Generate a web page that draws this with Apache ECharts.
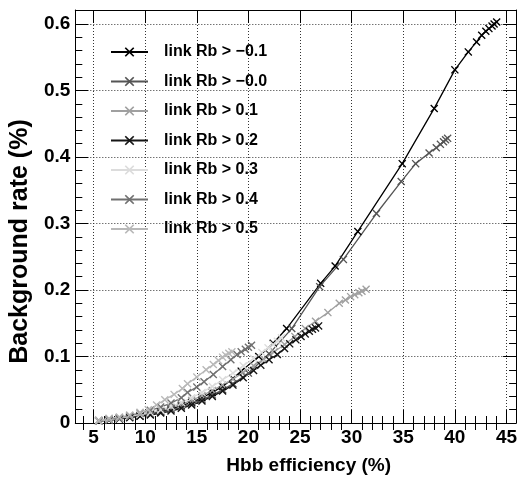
<!DOCTYPE html>
<html>
<head>
<meta charset="utf-8">
<script src="https://cdn.jsdelivr.net/npm/echarts@6/dist/echarts.min.js"></script>
<style>
  html, body { margin: 0; padding: 0; background: #fff; }
  #chart { width: 520px; height: 480px; }
</style>
</head>
<body>
<div id="chart"></div>
<script>
// --- Data ---
const seriesNames = ['link Rb > \u22120.1', 'link Rb > \u22120.0', 'link Rb > 0.1', 'link Rb > 0.2',
                     'link Rb > 0.3', 'link Rb > 0.4', 'link Rb > 0.5'];
const seriesColors = ['#000000', '#555555', '#a0a0a0', '#151515', '#dcdcdc', '#707070', '#b8b8b8'];

// [efficiency %, background %]
const rbM01 = [[5.5,0.003],[6.5,0.005],[7.5,0.007],[8.5,0.009],[9.5,0.011],[10.5,0.014],[11.5,0.017],
  [12.5,0.021],[13.5,0.026],[14.5,0.031],[15.5,0.038],[16.5,0.046],[17.5,0.055],[18.5,0.067],
  [19.3,0.078],[21,0.1],[22.4,0.12],[23.7,0.142],[27,0.21],[28.4,0.236],[30.6,0.288],[34.9,0.39],
  [38,0.473],[40,0.531],[41.3,0.558],[42.1,0.573],[42.6,0.583],[43,0.589],[43.3,0.593],[43.6,0.597],
  [43.8,0.6],[44.05,0.603]];
const rbM00 = [[5.5,0.003],[6.5,0.005],[7.5,0.007],[8.5,0.009],[9.5,0.011],[10.5,0.013],[11.5,0.016],
  [12.5,0.02],[13.5,0.024],[14.5,0.029],[15.5,0.035],[16.5,0.042],[17.5,0.05],[18.5,0.059],
  [20,0.075],[22,0.104],[24.2,0.142],[26.9,0.205],[29.2,0.246],[32.4,0.315],[34.8,0.363],[36.2,0.39],
  [37.5,0.406],[38.2,0.414],[38.6,0.419],[38.9,0.423],[39.1,0.426],[39.3,0.428]];
const rb01 = [[5.5,0.003],[6.5,0.005],[7.5,0.007],[8.5,0.01],[9.5,0.012],[10.5,0.015],[11.5,0.019],
  [12.5,0.023],[13.5,0.028],[14.5,0.034],[15.5,0.041],[16.5,0.049],[17.5,0.057],[18.5,0.066],
  [19.5,0.076],[20.5,0.086],[21.5,0.096],[22.5,0.107],[23.5,0.118],[24.5,0.13],[25.5,0.142],
  [26.5,0.153],[27.7,0.166],[28.8,0.18],[29.4,0.185],[29.9,0.19],[30.3,0.193],[30.7,0.196],
  [31.0,0.198],[31.4,0.201]];
const rb02 = [[5.5,0.003],[6.5,0.004],[7.5,0.006],[8.5,0.008],[9.5,0.01],[10.5,0.012],[11.5,0.015],
  [12.5,0.018],[13.5,0.022],[14.5,0.027],[15.5,0.033],[16.5,0.04],[17.5,0.048],[18.5,0.057],
  [19.5,0.068],[20.5,0.079],[21.2,0.087],[22,0.095],[22.8,0.103],[23.5,0.112],[24,0.119],[24.6,0.125],
  [25.1,0.13],[25.5,0.134],[25.9,0.138],[26.2,0.141],[26.5,0.143],[26.8,0.146]];
const rb03 = [[5.5,0.003],[6.5,0.005],[7.5,0.007],[8.5,0.01],[9.5,0.013],[10.5,0.016],[11.5,0.02],
  [12.5,0.025],[13.5,0.031],[14.5,0.038],[15.5,0.046],[16.5,0.055],[17.5,0.065],[18.5,0.075],
  [19.5,0.086],[20.5,0.097],[21.3,0.106],[21.9,0.113],[22.4,0.118],[22.8,0.123],[23.2,0.128]];
const rb04 = [[5.5,0.004],[6.5,0.006],[7.5,0.008],[8.5,0.011],[9.5,0.015],[10.5,0.019],[11.5,0.024],
  [12.5,0.03],[13.5,0.038],[14.1,0.046],[15,0.054],[15.7,0.062],[16.6,0.073],[17.5,0.085],
  [18.3,0.095],[18.9,0.103],[19.3,0.107],[19.7,0.111],[20,0.114],[20.3,0.117]];
const rb05 = [[5.5,0.004],[6.5,0.007],[7.5,0.009],[8.5,0.012],[9.5,0.016],[10.3,0.02],[11.1,0.027],
  [11.9,0.035],[12.8,0.043],[13.6,0.052],[14.1,0.059],[15,0.069],[15.9,0.08],[16.6,0.088],
  [17.1,0.094],[17.5,0.099],[17.8,0.102],[18.1,0.105],[18.4,0.107]];
const seriesData = [rbM01, rbM00, rb01, rb02, rb03, rb04, rb05];

// --- Axis ticks ---
const xMin = 3.23, xMax = 45.93;
const yMin = 0, yMax = 0.621;
const xMajor = [5, 10, 15, 20, 25, 30, 35, 40, 45];
const yMajor = [0, 0.1, 0.2, 0.3, 0.4, 0.5, 0.6];
const xMinor = [];
for (let v = 4; v <= 45; v++) if (v % 5 !== 0) xMinor.push(v);
const yMinor = [];
for (let i = 1; i <= 31; i++) if (i % 5 !== 0) yMinor.push(+(i * 0.02).toFixed(2));

const FONT = 'Liberation Sans';
const crossSymbol = 'path://M0,1.2L1.2,0L5,3.8L8.8,0L10,1.2L6.2,5L10,8.8L8.8,10L5,6.2L1.2,10L0,8.8L3.8,5Z';

function makeAxis(dim, position, ticks, len, opts) {
  const isX = dim === 'x';
  return Object.assign({
    type: 'value',
    position: position,
    min: isX ? xMin : yMin,
    max: isX ? xMax : yMax,
    axisLine: { show: true, onZero: false, lineStyle: { color: '#000', width: 1 } },
    axisTick: { show: true, inside: true, length: len, customValues: ticks,
                lineStyle: { color: '#000', width: 1 } },
    axisLabel: { show: false },
    splitLine: { show: false }
  }, opts || {});
}

const chart = echarts.init(document.getElementById('chart'), null, { renderer: 'canvas' });

chart.setOption({
  animation: false,
  backgroundColor: '#fff',
  grid: { left: 73, right: 2, top: 10, bottom: 57 },
  legend: {
    orient: 'vertical',
    left: 105,
    top: 39,
    itemWidth: 37,
    itemHeight: 12,
    itemGap: 13.5,
    data: seriesNames,
    textStyle: { fontFamily: FONT, fontSize: 16, fontWeight: 'bold', color: '#000', padding: [0, 0, 0, 11] }
  },
  xAxis: [
    makeAxis('x', 'bottom', xMajor, 13, {
      name: 'Hbb efficiency (%)',
      nameLocation: 'middle',
      nameGap: 33,
      nameTextStyle: { fontFamily: FONT, fontSize: 19, fontWeight: 'bold', color: '#000',
                       padding: [0, 0, 0, 26] },
      axisLabel: { show: true, customValues: xMajor, margin: 5,
                   fontFamily: FONT, fontSize: 19, fontWeight: 'bold', color: '#000' },
      splitLine: { show: true, lineStyle: { color: '#333', width: 1, type: [1, 2] } }
    }),
    makeAxis('x', 'bottom', xMinor, 7, { axisLine: { show: false } }),
    makeAxis('x', 'top', xMajor, 13),
    makeAxis('x', 'top', xMinor, 7, { axisLine: { show: false } })
  ],
  yAxis: [
    makeAxis('y', 'left', yMajor, 13, {
      name: 'Background rate (%)',
      nameLocation: 'middle',
      nameGap: 38,
      nameRotate: 90,
      nameTextStyle: { fontFamily: FONT, fontSize: 25, fontWeight: 'bold', color: '#000',
                       padding: [0, 50, 0, 0] },
      axisLabel: { show: true, customValues: yMajor, margin: 5,
                   fontFamily: FONT, fontSize: 19, fontWeight: 'bold', color: '#000',
                   formatter: v => (v === 0 ? '0' : v.toFixed(1)) },
      splitLine: { show: true, lineStyle: { color: '#333', width: 1, type: [1, 2] } }
    }),
    makeAxis('y', 'left', yMinor, 7, { axisLine: { show: false } }),
    makeAxis('y', 'right', yMajor, 13),
    makeAxis('y', 'right', yMinor, 7, { axisLine: { show: false } })
  ],
  series: seriesData.map((data, i) => ({
    name: seriesNames[i],
    type: 'line',
    xAxisIndex: 0,
    yAxisIndex: 0,
    data: data,
    symbol: crossSymbol,
    symbolSize: 8,
    showSymbol: true,
    showAllSymbol: true,
    color: seriesColors[i],
    lineStyle: { color: seriesColors[i], width: 1.3 },
    itemStyle: { color: seriesColors[i] }
  }))
});
</script>
</body>
</html>
